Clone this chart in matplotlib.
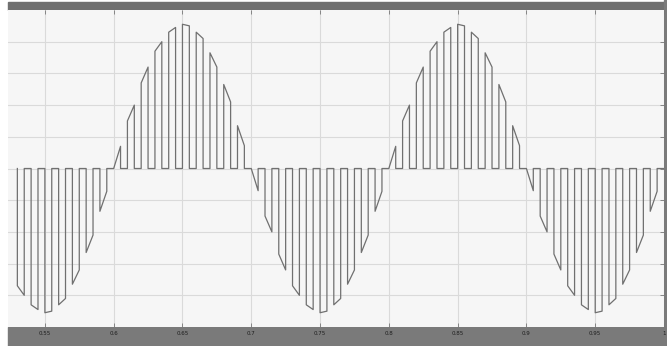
import matplotlib.pyplot as plt
from matplotlib.patches import Rectangle

# half-cycles of the sampled sine: start time (s) and sign
half_start = [0.50, 0.60, 0.70, 0.80, 0.90]
half_sign = [-1, 1, -1, 1, -1]

# pulse heights inside one half-cycle (grid units)
pulse_top_start = [0.0, 1.5, 2.7, 3.7, 4.3, 4.55, 4.3, 3.65, 2.65, 1.35]
pulse_top_end = [0.7, 2.0, 3.2, 4.0, 4.45, 4.5, 4.1, 3.2, 2.1, 0.72]

sample_period = 0.01
pulse_width = 0.005
trace_start = 0.53   # scope buffer starts here

tick_vals = [0.55, 0.6, 0.65, 0.7, 0.75, 0.8, 0.85, 0.9, 0.95, 1.0]
tick_labels = ['0.55', '0.6', '0.65', '0.7', '0.75', '0.8', '0.85', '0.9', '0.95', '1']

# build the step trace
t, y = [], []
for t0, s in zip(half_start, half_sign):
    for k in range(len(pulse_top_start)):
        tk = round(t0 + k * sample_period, 4)
        if tk < trace_start:
            continue
        t += [tk, tk, tk + pulse_width, tk + pulse_width]
        y += [0, s * pulse_top_start[k], s * pulse_top_end[k], 0]
t.append(1.0)
y.append(0)

W, H = 667, 346
fig = plt.figure(figsize=(W / 100, H / 100), dpi=100, facecolor='white')

# scope frame bands (behind the axes)
fig.patches.append(Rectangle((8 / W, 336 / H), 1, 8 / H, transform=fig.transFigure,
                             color='#707070', zorder=-5))
fig.patches.append(Rectangle((8 / W, 0), 1, 19 / H, transform=fig.transFigure,
                             color='#7a7a7a', zorder=-5))
fig.patches.append(Rectangle((664 / W, 0), 3 / W, 1, transform=fig.transFigure,
                             color='#7a7a7a', zorder=-5))

ax = fig.add_axes([8 / W, 19 / H, 656 / W, 317 / H])
ax.set_facecolor('#f6f6f6')

ax.plot(t, y, color='#707070', linewidth=0.9)

ax.set_xlim(0.5232, 1.0)
ax.set_ylim(-5, 5)
ax.set_xticks(tick_vals)
ax.set_xticklabels(tick_labels)
ax.set_yticks(range(-4, 5))
ax.set_yticklabels([])
ax.grid(True, color='#dadada', linewidth=0.8)
ax.tick_params(axis='x', direction='in', length=3, width=0.6, color='#777777',
               top=True, labelsize=4, labelcolor='#1e1e1e', pad=3)
ax.tick_params(axis='y', direction='in', length=3, width=0.6, color='#777777',
               left=False, right=True)
for sp in ax.spines.values():
    sp.set_visible(False)

fig.savefig('out.png', dpi=100)
